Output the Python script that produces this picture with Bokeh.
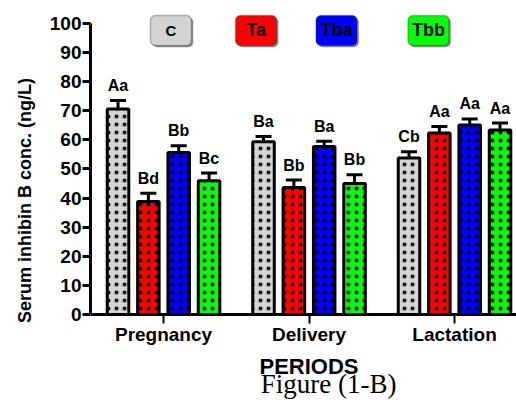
from bokeh.plotting import figure
from bokeh.models import Range1d, FixedTicker, Label, BoxAnnotation, ColumnDataSource
from bokeh.core.properties import value
from bokeh.embed import file_html
from bokeh.resources import INLINE

# ---- data ----
periods = ["Pregnancy", "Delivery", "Lactation"]
groups = ["C", "Ta", "Tba", "Tbb"]
colors = ["#d3d3d3", "#ff0000", "#0000ff", "#00ff00"]
c_mean = [70.6, 59.4, 53.8]
ta_mean = [38.8, 43.6, 62.4]
tba_mean = [55.7, 57.7, 65.1]
tbb_mean = [46.0, 45.0, 63.4]
c_sem = [2.9, 1.8, 2.1]
ta_sem = [2.9, 2.6, 2.2]
tba_sem = [2.3, 1.8, 2.1]
tbb_sem = [2.6, 3.0, 2.4]
c_let = ["Aa", "Ba", "Cb"]
ta_let = ["Bd", "Bb", "Aa"]
tba_let = ["Bb", "Ba", "Aa"]
tbb_let = ["Bc", "Bb", "Aa"]
y_ticks = list(range(0, 101, 10))

means = [c_mean, ta_mean, tba_mean, tbb_mean]
sems = [c_sem, ta_sem, tba_sem, tbb_sem]
letters = [c_let, ta_let, tba_let, tbb_let]

FONT = "Liberation Sans"

p = figure(width=516, height=400, output_backend="svg", toolbar_location=None,
           x_range=Range1d(-0.502, 2.426), y_range=Range1d(-29.55, 107.9),
           min_border_left=90, min_border_right=0, min_border_top=0, min_border_bottom=0)
p.outline_line_color = None
p.xgrid.visible = False
p.ygrid.visible = False
p.background_fill_color = "white"

# axes
p.yaxis.ticker = FixedTicker(ticks=y_ticks)
p.yaxis.bounds = (0, 100)
p.yaxis.minor_tick_line_color = None
p.yaxis.major_tick_out = 8
p.yaxis.major_tick_in = 0
p.yaxis.major_tick_line_width = 3
p.yaxis.axis_line_width = 3
p.yaxis.major_label_text_font = FONT
p.yaxis.major_label_text_font_style = "bold"
p.yaxis.major_label_text_font_size = "19px"
p.yaxis.major_label_text_color = "black"
p.yaxis.major_label_standoff = 1
p.yaxis.axis_label = "Serum inhibin B conc. (ng/L)"
p.yaxis.axis_label_text_font = FONT
p.yaxis.axis_label_text_font_style = "bold"
p.yaxis.axis_label_text_font_size = "18px"
p.yaxis.axis_label_text_color = "black"
p.yaxis.axis_label_standoff = 12

p.xaxis.fixed_location = 0
p.xaxis.ticker = FixedTicker(ticks=[0, 1, 2])
p.xaxis.major_label_overrides = {i: name for i, name in enumerate(periods)}
p.xaxis.minor_tick_line_color = None
p.xaxis.major_tick_out = 9
p.xaxis.major_tick_in = 0
p.xaxis.major_tick_line_width = 2
p.xaxis.axis_line_width = 3
p.xaxis.major_label_text_font = FONT
p.xaxis.major_label_text_font_style = "bold"
p.xaxis.major_label_text_font_size = "19px"
p.xaxis.major_label_text_color = "black"
p.xaxis.major_label_standoff = 0

stride = 0.2085
bar_w = 0.148
for i, g in enumerate(groups):
    xs = [k + (i - 1.5) * stride for k in range(len(periods))]
    ends = [m + s for m, s in zip(means[i], sems[i])]
    src = ColumnDataSource(dict(x=xs, top=means[i], end=ends, lab=letters[i]))
    p.segment(x0="x", y0="top", x1="x", y1="end", source=src,
              line_color="black", line_width=3)
    p.scatter(x="x", y="end", source=src, marker="dash", size=16,
              line_color="black", line_width=3)
    p.vbar(x="x", top="top", bottom=0, width=bar_w, source=src,
           fill_color=colors[i], line_color="black", line_width=3,
           hatch_pattern="dot", hatch_color="black", hatch_scale=8, hatch_weight=1.5)
    p.text(x="x", y="end", text="lab", source=src, text_align="center",
           text_baseline="alphabetic", y_offset=-15, text_font=value(FONT),
           text_font_style="bold", text_font_size="16px", text_color="black")

# legend boxes
leg_x = [0.051, 0.636, 1.189, 1.821]
leg_y = 97.6
hw, hh = 0.141, 5.15
for i, g in enumerate(groups):
    p.add_layout(BoxAnnotation(left=leg_x[i] - hw + 0.012, right=leg_x[i] + hw + 0.012,
                               bottom=leg_y - hh - 0.6, top=leg_y + hh - 0.6,
                               fill_color="#8a8a8a", fill_alpha=1, line_color=None,
                               border_radius=5))
    p.add_layout(BoxAnnotation(left=leg_x[i] - hw, right=leg_x[i] + hw,
                               bottom=leg_y - hh, top=leg_y + hh,
                               fill_color=colors[i], fill_alpha=1, line_color="#222222",
                               line_width=1.5, border_radius=5))
    p.add_layout(Label(x=leg_x[i], y=leg_y, text=g, text_align="center",
                       text_baseline="middle", text_font=FONT, text_font_style="bold",
                       text_font_size="15px" if g == "C" else "18px", text_color="black"))

p.add_layout(Label(x=1.0, y=-17.9, text="PERIODS", text_align="center",
                   text_baseline="alphabetic", text_font=FONT, text_font_style="bold",
                   text_font_size="22px", text_color="black"))
p.add_layout(Label(x=1.134, y=-24.0, text="Figure (1-B)", text_align="center",
                   text_baseline="alphabetic", text_font="Liberation Serif",
                   text_font_size="27px", text_color="black"))

open("out.html", "w").write(file_html(p, INLINE))
